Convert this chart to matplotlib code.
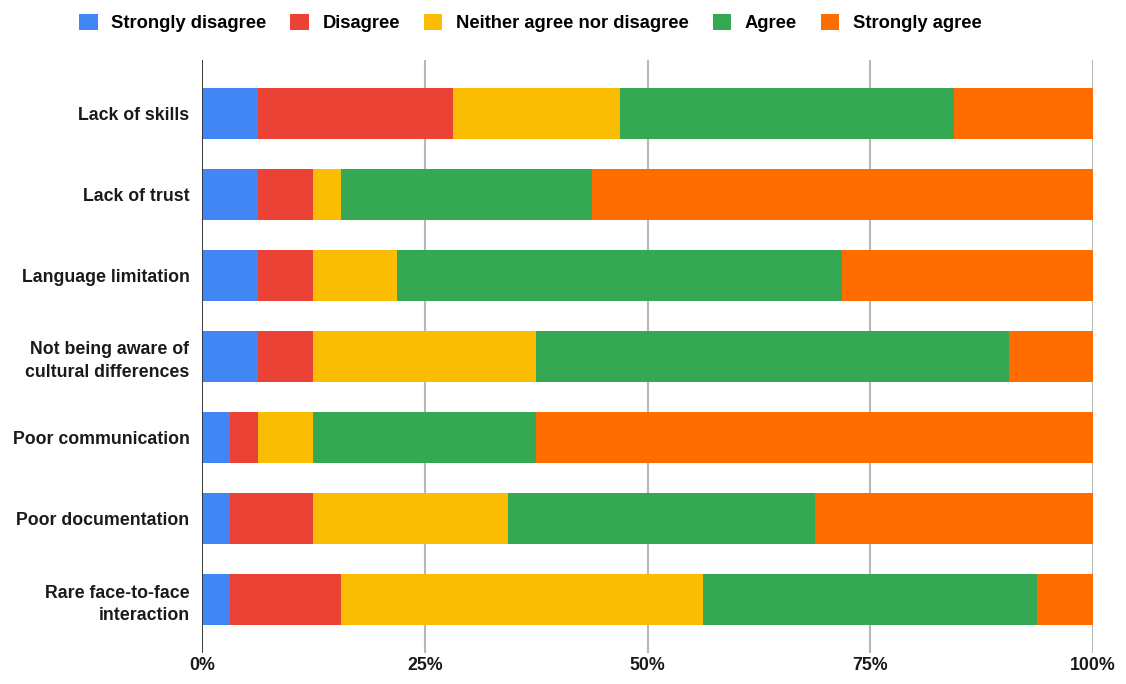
import matplotlib
matplotlib.use("Agg")
import matplotlib.pyplot as plt
from matplotlib.ticker import FuncFormatter
import numpy as np

plt.rcParams['font.family'] = ['Liberation Sans', 'DejaVu Sans']

categories = [
    "Lack of skills",
    "Lack of trust",
    "Language limitation",
    "Not being aware of\ncultural differences",
    "Poor communication",
    "Poor documentation",
    "Rare face-to-face\ninteraction",
]
series_names = ["Strongly disagree", "Disagree", "Neither agree nor disagree",
                "Agree", "Strongly agree"]
# response counts out of 32 respondents
strongly_disagree = [2, 2, 2, 2, 1, 1, 1]
disagree = [7, 2, 2, 2, 1, 3, 4]
neither = [6, 1, 3, 8, 2, 7, 13]
agree = [12, 9, 16, 17, 8, 11, 12]
strongly_agree = [5, 18, 9, 3, 20, 10, 2]
colors = ["#4285F4", "#EA4335", "#FBBC04", "#34A853", "#FF6D01"]

counts = np.array([strongly_disagree, disagree, neither, agree, strongly_agree], dtype=float)
shares = counts / counts.sum(axis=0) * 100

FS = 12.8
TXT = '#1a1a1a'

fig = plt.figure(figsize=(11.26, 6.84), dpi=100)
ax = fig.add_axes([202 / 1126, 1 - 653 / 684, (1093 - 202) / 1126, (653 - 60) / 684])

y = np.arange(len(categories))
left = np.zeros(len(categories))
handles = []
for name, vals, c in zip(series_names, shares, colors):
    h = ax.barh(y, vals, left=left, height=0.64, color=c, label=name, zorder=3)
    handles.append(h)
    left += vals

ax.set_xlim(0, 100)
ax.set_ylim(6.66, -0.66)
ax.set_xticks([0, 25, 50, 75, 100])
ax.xaxis.set_major_formatter(FuncFormatter(lambda v, p: f"{int(v)}%"))
ax.set_yticks(y)
ax.set_yticklabels(categories, fontweight='bold', fontsize=FS, color=TXT, linespacing=1.4)
for lbl in ax.get_xticklabels():
    lbl.set_fontweight('bold')
    lbl.set_fontsize(FS)
    lbl.set_color(TXT)

ax.grid(axis='x', color='#b7b7b7', linewidth=1.5, zorder=0)
for s in ax.spines.values():
    s.set_visible(False)
ax.axvline(0, color='#333333', linewidth=1.3, zorder=4)
ax.tick_params(axis='both', length=0)
ax.tick_params(axis='x', pad=3)
ax.tick_params(axis='y', pad=9)

fig.legend(handles=handles, labels=series_names, loc='center', bbox_to_anchor=(0.471, 1 - 23 / 684),
           ncol=5, frameon=False, handlelength=1.0, handleheight=1.0, handletextpad=0.75,
           columnspacing=1.3, prop={'weight': 'bold', 'size': 13.2})

fig.savefig("out.png", dpi=100)
